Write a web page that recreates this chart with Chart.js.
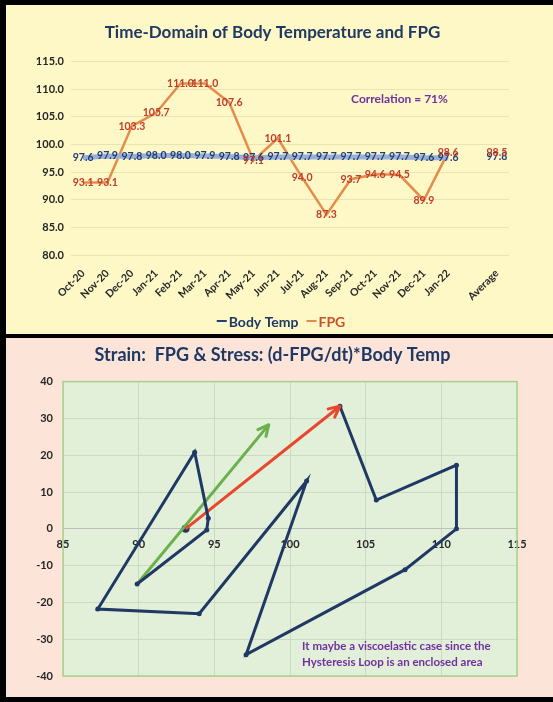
<!DOCTYPE html>
<html>
<head>
<meta charset="utf-8">
<script src="https://cdn.jsdelivr.net/npm/chart.js@4.4.0/dist/chart.umd.min.js"></script>
<style>
  html, body { margin: 0; padding: 0; background: #000; }
  body { width: 553px; height: 702px; position: relative; overflow: hidden; }
  #topBox { position: absolute; left: 6px; top: 5px; width: 547px; height: 329px; background: #fdf8c6; }
  #bottomBox { position: absolute; left: 6px; top: 338px; width: 547px; height: 359px; background: #fce4d8; }
  canvas { display: block; }
</style>
</head>
<body>
<div id="topBox"><canvas id="timeChart" width="533" height="329"></canvas></div>
<div id="bottomBox"><canvas id="loopChart" width="533" height="359"></canvas></div>
<script>
// top chart data
const months = ['Oct-20', 'Nov-20', 'Dec-20', 'Jan-21', 'Feb-21', 'Mar-21', 'Apr-21', 'May-21',
  'Jun-21', 'Jul-21', 'Aug-21', 'Sep-21', 'Oct-21', 'Nov-21', 'Dec-21', 'Jan-22', '', 'Average'];
const bodyTemp = [97.6, 97.9, 97.8, 98.0, 98.0, 97.9, 97.8, 97.6, 97.7, 97.7, 97.7, 97.7, 97.7, 97.7, 97.6, 97.6, null, 97.8];
const fpg = [93.1, 93.1, 103.3, 105.7, 111.0, 111.0, 107.6, 97.1, 101.1, 94.0, 87.3, 93.7, 94.6, 94.5, 89.9, 98.6, null, 98.5];

// bottom chart data (strain = FPG, stress)
const strainFPG = [103.3, 105.7, 111.0, 111.0, 107.6, 97.1, 101.1, 94.0, 87.3, 93.7, 94.6, 94.5, 89.9];
const stress = [33.3, 7.8, 17.3, 0.0, -11.1, -34.2, 13.0, -23.1, -21.8, 20.8, 2.9, -0.3, -15.0];
const startPoint = [93.1, 0.0];
const redArrowX = [93.1, 103.3];
const redArrowY = [0.0, 33.3];
const greenArrowX = [89.9, 98.6];
const greenArrowY = [-15.0, 28.3];

Chart.defaults.font.family = 'Lato, "Open Sans", sans-serif';
Chart.defaults.animation = false;

const navy = '#1f3864';

// empty axis on the right, only to keep room like the original
function spacerAxis(w) {
  return {
    type: 'linear',
    position: 'right',
    display: true,
    grid: { display: false },
    border: { display: false },
    ticks: { display: false },
    afterFit(scale) { scale.width = w; }
  };
}

// draws value labels centred on each point, the note and a compact legend
const valueLabels = {
  id: 'valueLabels',
  afterDatasetsDraw(chart) {
    const ctx = chart.ctx;
    ctx.save();
    ctx.font = 'bold 10.5px Lato';
    ctx.textAlign = 'center';
    ctx.textBaseline = 'middle';
    chart.data.datasets.forEach((ds, i) => {
      if (!ds.labelColor) return;
      const meta = chart.getDatasetMeta(i);
      meta.data.forEach((pt, j) => {
        if (ds.data[j] == null) return;
        ctx.fillStyle = ds.labelColor;
        ctx.fillText(ds.data[j].toFixed(1), pt.x, pt.y);
      });
    });
    // correlation note
    const x = chart.scales.x.getPixelForValue(13.0);
    const y = chart.scales.y.getPixelForValue(108.2);
    ctx.font = 'bold 12px Lato';
    ctx.fillStyle = '#7030a0';
    ctx.fillText('Correlation = 71%', x, y);
    ctx.restore();
  },
  afterDraw(chart) {
    const ctx = chart.ctx;
    const items = chart.data.datasets.filter(ds => ds.legendColor);
    ctx.save();
    ctx.font = 'bold 14px Lato';
    ctx.textBaseline = 'middle';
    ctx.textAlign = 'left';
    const mark = 10, gap = 2, between = 8;
    let total = 0;
    items.forEach((ds, i) => {
      total += mark + gap + ctx.measureText(ds.label).width + (i ? between : 0);
    });
    let x = 275 - total / 2;
    const y = chart.height - 13;
    items.forEach((ds, i) => {
      if (i) x += between;
      ctx.strokeStyle = ds.borderColor;
      ctx.lineWidth = 2;
      ctx.beginPath();
      ctx.moveTo(x, y);
      ctx.lineTo(x + mark, y);
      ctx.stroke();
      x += mark + gap;
      ctx.fillStyle = ds.legendColor;
      ctx.fillText(ds.label, x, y + 1);
      x += ctx.measureText(ds.label).width;
    });
    ctx.restore();
  }
};

new Chart(document.getElementById('timeChart'), {
  type: 'line',
  data: {
    labels: months,
    datasets: [
      {
        label: 'halo',
        data: bodyTemp,
        borderColor: '#9aafd6',
        borderWidth: 5,
        pointRadius: 0,
        spanGaps: false
      },
      {
        label: 'Body Temp',
        data: bodyTemp,
        borderColor: '#223f7c',
        borderWidth: 2,
        pointRadius: 0,
        labelColor: '#1f3c78',
        legendColor: navy,
        spanGaps: false
      },
      {
        label: 'FPG',
        data: fpg,
        borderColor: '#e38c4c',
        borderWidth: 2.5,
        pointRadius: 0,
        labelColor: '#c23b2b',
        legendColor: '#c9502c',
        spanGaps: false
      }
    ]
  },
  options: {
    responsive: false,
    layout: { padding: { left: 0, right: 0, top: 0, bottom: 30 } },
    plugins: {
      title: {
        display: true,
        text: 'Time-Domain of Body Temperature and FPG',
        color: navy,
        font: { size: 17, weight: 'bold' },
        padding: { top: 17, bottom: 19 }
      },
      legend: { display: false },
      tooltip: { enabled: false }
    },
    scales: {
      x: {
        offset: true,
        grid: { display: false },
        border: { display: false },
        ticks: {
          minRotation: 45,
          maxRotation: 45,
          autoSkip: false,
          padding: 4,
          color: '#262626',
          font: { size: 10.5, weight: 'bold' }
        },
        afterFit(scale) { scale.height = 49; }
      },
      y: {
        min: 80,
        max: 115,
        ticks: {
          stepSize: 5,
          padding: 7,
          color: '#262626',
          font: { size: 11, weight: 'bold' },
          callback: v => v.toFixed(1)
        },
        grid: { color: 'rgba(0,0,0,0.08)', drawTicks: false },
        border: { display: false },
        afterFit(scale) { scale.width = 65; }
      },
      spacer: spacerAxis(30)
    }
  },
  plugins: [valueLabels]
});

// green plot area, border, arrowheads and note
const loopDecor = {
  id: 'loopDecor',
  beforeDraw(chart) {
    const a = chart.chartArea;
    const ctx = chart.ctx;
    ctx.save();
    ctx.fillStyle = '#e2efd9';
    ctx.fillRect(a.left, a.top, a.right - a.left, a.bottom - a.top);
    ctx.restore();
  },
  beforeDatasetsDraw(chart) {
    const a = chart.chartArea;
    const ctx = chart.ctx;
    ctx.save();
    ctx.strokeStyle = '#a9d18e';
    ctx.lineWidth = 1.5;
    ctx.strokeRect(a.left, a.top, a.right - a.left, a.bottom - a.top);
    ctx.restore();
  },
  afterDatasetsDraw(chart) {
    const ctx = chart.ctx;
    chart.data.datasets.forEach((ds, i) => {
      if (!ds.arrow) return;
      const pts = chart.getDatasetMeta(i).data;
      const p0 = pts[pts.length - 2], p1 = pts[pts.length - 1];
      const ang = Math.atan2(p1.y - p0.y, p1.x - p0.x);
      const len = 12, spread = 0.45;
      ctx.save();
      ctx.strokeStyle = ds.borderColor;
      ctx.lineWidth = 3;
      ctx.lineCap = 'round';
      ctx.lineJoin = 'round';
      ctx.beginPath();
      ctx.moveTo(p1.x - len * Math.cos(ang - spread), p1.y - len * Math.sin(ang - spread));
      ctx.lineTo(p1.x, p1.y);
      ctx.lineTo(p1.x - len * Math.cos(ang + spread), p1.y - len * Math.sin(ang + spread));
      ctx.stroke();
      ctx.restore();
    });
    const sx = chart.scales.x, sy = chart.scales.y;
    ctx.save();
    ctx.font = 'bold 11.5px Lato';
    ctx.fillStyle = '#7030a0';
    ctx.textAlign = 'left';
    ctx.textBaseline = 'middle';
    ctx.fillText('It maybe a viscoelastic case since the', sx.getPixelForValue(100.8), sy.getPixelForValue(-31.8));
    ctx.fillText('Hysteresis Loop is an enclosed area', sx.getPixelForValue(100.8), sy.getPixelForValue(-36.3));
    ctx.restore();
  }
};

new Chart(document.getElementById('loopChart'), {
  type: 'scatter',
  data: {
    datasets: [
      {
        label: 'Loop',
        data: strainFPG.map((x, i) => ({ x: x, y: stress[i] })),
        showLine: true,
        borderColor: navy,
        backgroundColor: navy,
        borderWidth: 3,
        pointRadius: 2.5,
        pointBorderWidth: 0
      },
      {
        label: 'Red',
        data: redArrowX.map((x, i) => ({ x: x, y: redArrowY[i] })),
        showLine: true,
        arrow: true,
        borderColor: '#e8472e',
        borderWidth: 3,
        pointRadius: 0
      },
      {
        label: 'Green',
        data: greenArrowX.map((x, i) => ({ x: x, y: greenArrowY[i] })),
        showLine: true,
        arrow: true,
        borderColor: '#6ab04c',
        borderWidth: 3,
        pointRadius: 0
      },
      {
        label: 'Start',
        data: [{ x: startPoint[0], y: startPoint[1] }],
        backgroundColor: navy,
        pointRadius: 4,
        pointBorderWidth: 0
      }
    ]
  },
  options: {
    responsive: false,
    layout: { padding: { left: 0, right: 0, top: 0, bottom: 21 } },
    plugins: {
      title: {
        display: true,
        text: 'Strain:  FPG & Stress: (d-FPG/dt)*Body Temp',
        color: navy,
        font: { size: 18, weight: 'bold' },
        padding: { top: 6, bottom: 16 }
      },
      legend: { display: false },
      tooltip: { enabled: false }
    },
    scales: {
      x: {
        type: 'linear',
        position: { y: 0 },
        min: 85,
        max: 115,
        ticks: { stepSize: 5, padding: 9, color: '#262626', font: { size: 11, weight: 'bold' } },
        grid: { color: '#c8dcbf', drawTicks: false },
        border: { display: true, color: '#bfbfbf', width: 1 }
      },
      y: {
        min: -40,
        max: 40,
        ticks: { stepSize: 10, padding: 10, color: '#262626', font: { size: 11, weight: 'bold' } },
        grid: { color: '#c8dcbf', drawTicks: false },
        border: { display: false },
        afterFit(scale) { scale.width = 57; }
      },
      spacer: spacerAxis(22)
    }
  },
  plugins: [loopDecor]
});
</script>
</body>
</html>
